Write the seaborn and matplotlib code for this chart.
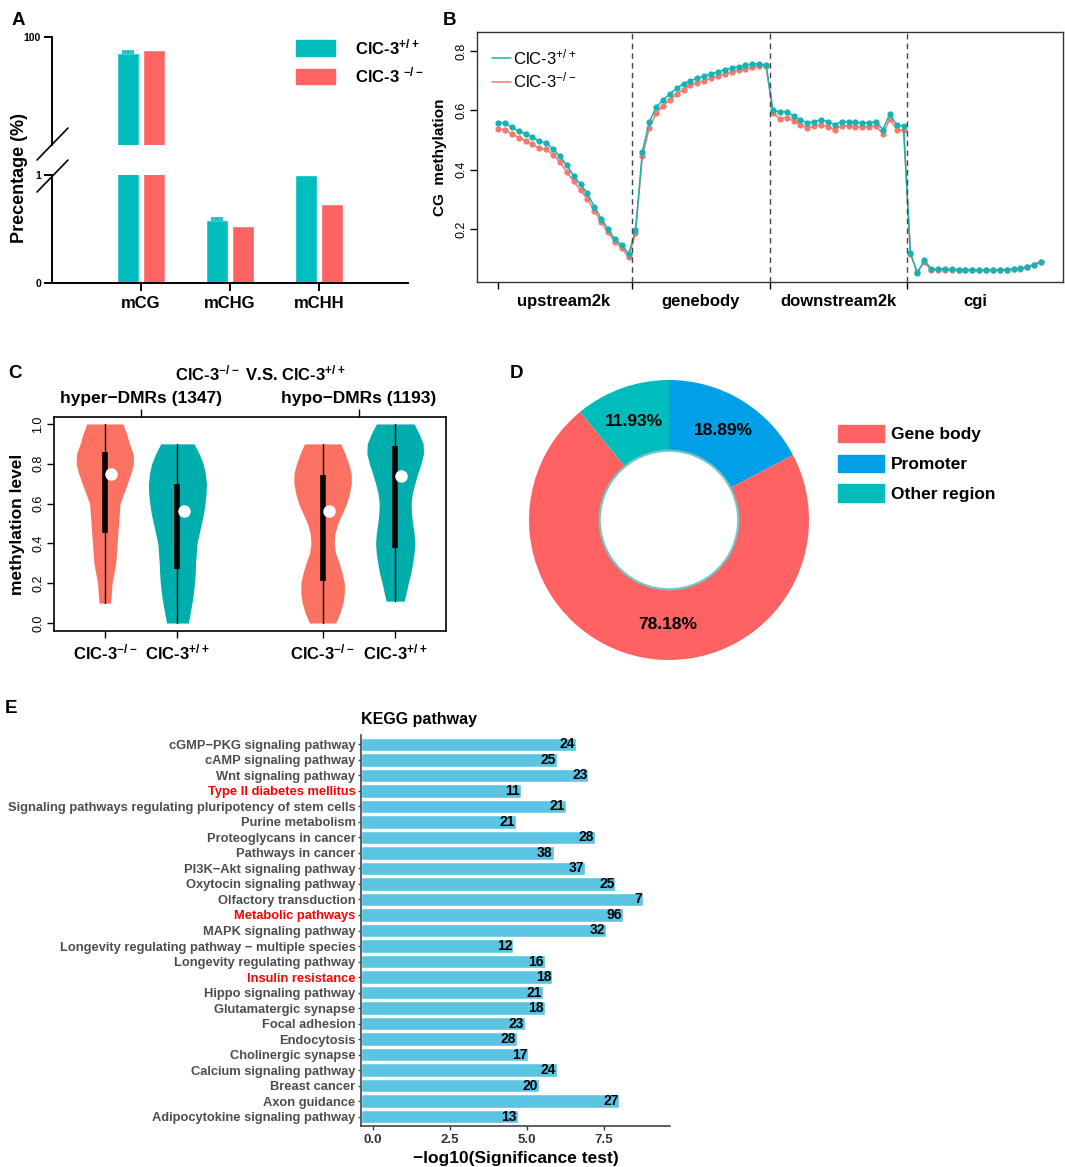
import numpy as np
import pandas as pd
import seaborn as sns
import matplotlib
matplotlib.use("Agg")
from matplotlib import pyplot as plt
from matplotlib.patches import Patch, Circle
from matplotlib.lines import Line2D

sns.set_theme(style="white")
plt.rcParams['font.family'] = ['Liberation Sans', 'DejaVu Sans']
plt.rcParams['font.weight'] = 'bold'
plt.rcParams['axes.labelweight'] = 'bold'
plt.rcParams['axes.titleweight'] = 'bold'
plt.rcParams['mathtext.default'] = 'regular'
for k in ['text.color', 'axes.labelcolor', 'xtick.color', 'ytick.color', 'axes.edgecolor']:
    plt.rcParams[k] = 'black'

W, H = 1065, 1167
fig = plt.figure(figsize=(W / 100, H / 100), dpi=100)


def box(x0, y0, x1, y1):
    # axes placed by pixel corners of the reference
    return fig.add_axes([x0 / W, 1 - y1 / H, (x1 - x0) / W, (y1 - y0) / H])


wt_lab = 'ClC-3$^{+/+}$'
ko_lab = 'ClC-3$^{-/-}$'

## A: methylation level per context (broken axis)
contexts = ['mCG', 'mCHG', 'mCHH']
pct_wt = [94.1, 0.58, 1.0]
pct_ko = [95.2, 0.53, 0.73]
err_wt = [0.6, 0.025, 0.0]

## B: CG methylation profile, 20 bins per region
regions = ['upstream2k', 'genebody', 'downstream2k', 'cgi']
upstream_wt = [0.557, 0.557, 0.542, 0.530, 0.520, 0.510, 0.495, 0.490, 0.470, 0.445,
               0.415, 0.380, 0.350, 0.320, 0.275, 0.235, 0.200, 0.165, 0.145, 0.115]
upstream_ko = [0.538, 0.535, 0.520, 0.508, 0.497, 0.485, 0.472, 0.468, 0.450, 0.425,
               0.392, 0.360, 0.330, 0.300, 0.262, 0.222, 0.188, 0.157, 0.135, 0.105]
genebody_wt = [0.195, 0.460, 0.560, 0.610, 0.635, 0.655, 0.675, 0.690, 0.700, 0.708,
               0.715, 0.722, 0.730, 0.737, 0.742, 0.747, 0.752, 0.755, 0.757, 0.753]
genebody_ko = [0.185, 0.445, 0.540, 0.590, 0.615, 0.635, 0.655, 0.670, 0.685, 0.693,
               0.700, 0.708, 0.715, 0.722, 0.730, 0.735, 0.740, 0.745, 0.748, 0.748]
downstream_wt = [0.600, 0.595, 0.595, 0.580, 0.568, 0.558, 0.562, 0.568, 0.562, 0.552,
                 0.562, 0.562, 0.560, 0.558, 0.558, 0.562, 0.535, 0.588, 0.550, 0.548]
downstream_ko = [0.590, 0.572, 0.575, 0.565, 0.552, 0.540, 0.548, 0.550, 0.545, 0.535,
                 0.548, 0.548, 0.545, 0.545, 0.545, 0.548, 0.520, 0.572, 0.535, 0.532]
cgi_wt = [0.120, 0.050, 0.095, 0.065, 0.065, 0.065, 0.064, 0.063, 0.063, 0.063,
          0.062, 0.062, 0.062, 0.063, 0.063, 0.065, 0.067, 0.072, 0.080, 0.090]
cgi_ko = [0.115, 0.055, 0.088, 0.062, 0.062, 0.062, 0.061, 0.060, 0.060, 0.060,
          0.060, 0.060, 0.060, 0.061, 0.062, 0.064, 0.066, 0.071, 0.079, 0.089]

## C: DMR methylation violins (half-width profiles)
dmr_groups = ['hyper\u2212DMRs (1347)', 'hypo\u2212DMRs (1193)']
vio_pos = [1, 2, 4, 5]
vio_geno = ['KO', 'WT', 'KO', 'WT']
lev_v1 = [0.10, 0.15, 0.20, 0.25, 0.30, 0.35, 0.40, 0.45, 0.50, 0.55, 0.60, 0.65, 0.70, 0.75, 0.80, 0.85, 0.90, 0.95, 1.00]
wid_v1 = [0.08, 0.09, 0.10, 0.125, 0.15, 0.16, 0.17, 0.18, 0.19, 0.20, 0.21, 0.26, 0.31, 0.36, 0.395, 0.39, 0.34, 0.30, 0.25]
lev_v2 = [0.00, 0.05, 0.10, 0.15, 0.20, 0.25, 0.30, 0.35, 0.40, 0.45, 0.50, 0.55, 0.60, 0.65, 0.70, 0.75, 0.80, 0.85, 0.90]
wid_v2 = [0.15, 0.175, 0.20, 0.22, 0.235, 0.245, 0.25, 0.26, 0.27, 0.30, 0.33, 0.36, 0.38, 0.395, 0.40, 0.385, 0.355, 0.30, 0.23]
lev_v3 = [0.00, 0.05, 0.10, 0.15, 0.20, 0.25, 0.30, 0.35, 0.40, 0.45, 0.50, 0.55, 0.60, 0.65, 0.70, 0.75, 0.80, 0.85, 0.90]
wid_v3 = [0.18, 0.24, 0.28, 0.30, 0.30, 0.27, 0.23, 0.18, 0.16, 0.17, 0.21, 0.27, 0.33, 0.37, 0.395, 0.395, 0.36, 0.31, 0.25]
lev_v4 = [0.11, 0.15, 0.20, 0.25, 0.30, 0.35, 0.40, 0.45, 0.50, 0.55, 0.60, 0.65, 0.70, 0.75, 0.80, 0.85, 0.90, 0.95, 1.00]
wid_v4 = [0.125, 0.15, 0.18, 0.215, 0.24, 0.26, 0.27, 0.26, 0.24, 0.225, 0.22, 0.235, 0.27, 0.31, 0.355, 0.39, 0.385, 0.33, 0.26]
vio_q1 = [0.45, 0.27, 0.21, 0.375]
vio_q3 = [0.86, 0.70, 0.745, 0.89]
vio_med = [0.75, 0.565, 0.565, 0.74]

## D: DMR genomic distribution
dmr_regions = ['Promoter', 'Gene body', 'Other region']
dmr_pct = [18.89, 78.18, 11.93]

## E: KEGG enrichment
pathways = ['cGMP\u2212PKG signaling pathway', 'cAMP signaling pathway', 'Wnt signaling pathway',
            'Type II diabetes mellitus', 'Signaling pathways regulating pluripotency of stem cells',
            'Purine metabolism', 'Proteoglycans in cancer', 'Pathways in cancer',
            'PI3K\u2212Akt signaling pathway', 'Oxytocin signaling pathway', 'Olfactory transduction',
            'Metabolic pathways', 'MAPK signaling pathway',
            'Longevity regulating pathway \u2212 multiple species', 'Longevity regulating pathway',
            'Insulin resistance', 'Hippo signaling pathway', 'Glutamatergic synapse', 'Focal adhesion',
            'Endocytosis', 'Cholinergic synapse', 'Calcium signaling pathway', 'Breast cancer',
            'Axon guidance', 'Adipocytokine signaling pathway']
neglog10 = [6.59, 5.98, 6.99, 4.79, 6.27, 4.64, 7.21, 5.86, 6.89, 7.87, 8.76, 8.11, 7.56,
            4.55, 5.57, 5.82, 5.51, 5.57, 4.92, 4.66, 5.04, 5.98, 5.38, 8.00, 4.70]
gene_counts = [24, 25, 23, 11, 21, 21, 28, 38, 37, 25, 7, 96, 32,
               12, 16, 18, 21, 18, 23, 28, 17, 24, 20, 27, 13]
highlight = ['Type II diabetes mellitus', 'Metabolic pathways', 'Insulin resistance']

teal_a, red_a = '#00BEBE', '#FF6363'
teal_b, red_b = '#17B3B3', '#F47A70'
teal_c, red_c = '#00ADAD', '#FC7262'
donut_cols = {'Promoter': '#00A0E9', 'Gene body': '#FF6262', 'Other region': '#00BDBD'}
kegg_col = '#5BC4E2'

# ---------------- A ----------------
dfA = pd.DataFrame({'context': contexts * 2, 'pct': pct_wt + pct_ko,
                    'geno': ['WT'] * 3 + ['KO'] * 3})
axA_top = box(52, 37, 408, 145)
axA_bot = box(52, 175, 408, 283)
for ax in (axA_top, axA_bot):
    sns.barplot(data=dfA, x='context', y='pct', hue='geno', hue_order=['WT', 'KO'],
                palette={'WT': teal_a, 'KO': red_a}, width=0.59, gap=0.15, saturation=1,
                legend=False, ax=ax)
    wt_bars = ax.patches[:3]
    for p, e in zip(wt_bars, err_wt):
        if e > 0:
            ax.errorbar(p.get_x() + p.get_width() / 2, p.get_height(), yerr=[[0], [e]],
                        color=teal_a, capsize=4, lw=1.2, capthick=1.2)
    ax.set_xlim(-1, 3)
    ax.set_xlabel('')
    ax.set_ylabel('')
    for s in ['top', 'right']:
        ax.spines[s].set_visible(False)
    ax.spines['left'].set_linewidth(1.4)
    ax.spines['bottom'].set_linewidth(1.4)
    ax.tick_params(axis='y', left=True, length=6, width=1.4, labelsize=7.5, pad=2)
axA_top.set_ylim(60, 100)
axA_top.set_yticks([100])
axA_top.spines['bottom'].set_visible(False)
axA_top.set_xticks([])
axA_bot.set_ylim(0, 1)
axA_bot.set_yticks([0, 1], ['0', '1'])
axA_bot.tick_params(axis='x', bottom=True, length=6, width=1.4, labelsize=12, pad=3)
fig.text(20 / W, 1 - 178 / H, 'Precentage (%)', rotation=90, ha='center', va='center', fontsize=13)
for (x0, y0, x1, y1) in [(37, 160, 68, 128), (37, 192, 68, 160)]:
    fig.add_artist(Line2D([x0 / W, x1 / W], [1 - y0 / H, 1 - y1 / H], color='black', lw=1.2))
fig.legend(handles=[Patch(color=teal_a), Patch(color=red_a)], labels=[wt_lab, 'ClC-3 $^{-/-}$'],
           loc='upper left', bbox_to_anchor=(296 / W, 1 - 37 / H), frameon=False, fontsize=12,
           handlelength=2.35, handleheight=1.05, labelspacing=0.5, handletextpad=1.2,
           borderpad=0, borderaxespad=0)

# ---------------- B ----------------
prof_wt = upstream_wt + genebody_wt + downstream_wt + cgi_wt
prof_ko = upstream_ko + genebody_ko + downstream_ko + cgi_ko
nb = len(prof_wt)
dfB = pd.DataFrame({'bin': list(range(nb)) * 2, 'meth': prof_ko + prof_wt,
                    'geno': ['KO'] * nb + ['WT'] * nb})
axB = box(477, 32, 1063, 282)
sns.lineplot(data=dfB, x='bin', y='meth', hue='geno', hue_order=['KO', 'WT'],
             palette={'WT': teal_b, 'KO': red_b}, marker='o', markersize=4.5,
             markeredgewidth=0, linewidth=1.1, legend=False, ax=axB)
seg = len(upstream_wt)
bounds = [seg * i - 0.5 for i in range(1, len(regions))]
for b in bounds:
    axB.axvline(b, color='#444444', ls=(0, (4, 3)), lw=1)
axB.set_xlim(-3.06, 82.2)
axB.set_ylim(0.021, 0.864)
axB.set_xticks([0] + bounds)
axB.set_xticklabels([])
axB.set_xticks([seg * i + (seg - 1) / 2 for i in range(len(regions))], regions, minor=True)
axB.tick_params(axis='x', which='major', bottom=True, length=5, width=1)
axB.tick_params(axis='x', which='minor', bottom=False, length=0, labelsize=12, pad=9)
axB.set_yticks([0.2, 0.4, 0.6, 0.8])
axB.set_yticklabels(['0.2', '0.4', '0.6', '0.8'], rotation=90, va='center', fontsize=9, fontweight='normal')
axB.tick_params(axis='y', left=True, length=5, width=1, pad=2)
axB.set_xlabel('')
axB.set_ylabel('CG  methylation', fontsize=11, labelpad=6)
for s in axB.spines.values():
    s.set_linewidth(1)
    s.set_color('#333333')
axB.legend(handles=[Line2D([], [], color=teal_b, lw=1.1), Line2D([], [], color=red_b, lw=1.1)],
           labels=[wt_lab, ko_lab], loc='upper left', bbox_to_anchor=(0.005, 0.985), frameon=False,
           prop={'size': 12, 'weight': 'normal'}, handlelength=1.15, handletextpad=0.15,
           labelspacing=0.2, borderpad=0.2)

# ---------------- C ----------------
axC = box(54, 417, 446, 631)
profiles = [(lev_v1, wid_v1), (lev_v2, wid_v2), (lev_v3, wid_v3), (lev_v4, wid_v4)]
for pos, g, (lev, wid), a, b, m in zip(vio_pos, vio_geno, profiles, vio_q1, vio_q3, vio_med):
    lev = np.array(lev)
    wid = np.array(wid)
    axC.fill_betweenx(lev, pos - wid, pos + wid, color=red_c if g == 'KO' else teal_c, lw=0)
    axC.plot([pos, pos], [lev.min(), lev.max()], color='black', lw=1)
    axC.plot([pos, pos], [a, b], color='black', lw=4, solid_capstyle='butt')
    axC.plot(pos + 0.085, m, 'o', color='white', markersize=9, markeredgewidth=0)
axC.set_xlim(0.3, 5.7)
axC.set_ylim(-0.04, 1.035)
axC.set_xticks(vio_pos, [ko_lab if g == 'KO' else wt_lab for g in vio_geno])
axC.tick_params(axis='x', bottom=True, length=5, width=1, labelsize=12, pad=3)
axC.set_yticks(np.arange(0, 1.01, 0.2))
axC.set_yticklabels(['0.0', '0.2', '0.4', '0.6', '0.8', '1.0'], rotation=90, va='center', fontsize=9, fontweight='normal')
axC.tick_params(axis='y', left=True, length=5, width=1, pad=2)
axC.set_ylabel('methylation level', fontsize=12.5, labelpad=5)
for s in axC.spines.values():
    s.set_linewidth(1.2)
secC = axC.secondary_xaxis('top')
secC.set_xticks([1.5, 4.5], dmr_groups)
secC.tick_params(axis='x', length=6, width=1, labelsize=12.5, pad=2)
secC.spines['top'].set_visible(False)
fig.text(260 / W, 1 - 373 / H, ko_lab + ' V.S. ' + wt_lab, ha='center', va='center', fontsize=12)

# ---------------- D ----------------
axD = box(529, 380, 809, 660)
wedges, _ = axD.pie(dmr_pct, colors=[donut_cols[r] for r in dmr_regions], startangle=90,
                    counterclock=False, radius=1, wedgeprops=dict(width=0.505, lw=0))
axD.add_patch(Circle((0, 0), 0.495, facecolor='white', edgecolor='#73C6C6', lw=1.6))
label_turn = [0, 11, 0]  # degrees, gene body label sits a little off its mid-angle
for w, v, t in zip(wedges, dmr_pct, label_turn):
    ang = np.deg2rad((w.theta1 + w.theta2) / 2 + t)
    axD.text(0.75 * np.cos(ang), 0.75 * np.sin(ang), f'{v:.2f}%', ha='center', va='center', fontsize=12.5)
axD.set_xlim(-1, 1)
axD.set_ylim(-1, 1)
axD.set_aspect('auto')
leg_order = ['Gene body', 'Promoter', 'Other region']
fig.legend(handles=[Patch(color=donut_cols[r]) for r in leg_order], labels=leg_order,
           loc='upper left', bbox_to_anchor=(838 / W, 1 - 425 / H), frameon=False, fontsize=12.5,
           handlelength=2.65, handleheight=1.15, labelspacing=0.7, handletextpad=0.4,
           borderpad=0, borderaxespad=0)

# ---------------- E ----------------
axE = box(361, 735, 670, 1126)
x_lo = -0.39
sns.barplot(x=neglog10, y=pathways, orient='h', color=kegg_col, saturation=1, width=0.87, ax=axE)
# bars in the reference start at the axis line, not at zero
for p, v in zip(axE.patches, neglog10):
    p.set_x(x_lo)
    p.set_width(v - x_lo)
for i, (v, n) in enumerate(zip(neglog10, gene_counts)):
    axE.text(v - 0.03, i, str(n), ha='right', va='center', fontsize=10, color='black')
axE.set_xlim(x_lo, 9.64)
axE.set_ylim(len(pathways) - 0.4, -0.6)
axE.set_xticks([0, 2.5, 5.0, 7.5], ['0.0', '2.5', '5.0', '7.5'])
axE.tick_params(axis='x', bottom=True, length=3, width=1, labelsize=9.5, colors='#333333', pad=3)
axE.tick_params(axis='y', left=True, length=2.5, width=1, labelsize=9.3, colors='#4D4D4D', pad=1.5)
for lab in axE.get_yticklabels():
    if lab.get_text() in highlight:
        lab.set_color('red')
for s in ['top', 'right']:
    axE.spines[s].set_visible(False)
for s in ['left', 'bottom']:
    axE.spines[s].set_linewidth(1.1)
    axE.spines[s].set_color('#333333')
axE.set_xlabel('\u2212log10(Significance test)', fontsize=12.5, labelpad=3)
axE.set_ylabel('')
axE.set_title('KEGG pathway', loc='left', fontsize=11.5, pad=8)

# panel letters
for lab, x, y in [('A', 12, 12), ('B', 443, 12), ('C', 8, 365), ('D', 510, 365), ('E', 5, 700)]:
    fig.text(x / W, 1 - y / H, lab, fontsize=13.5, ha='left', va='top')

fig.savefig('out.png', dpi=100)
